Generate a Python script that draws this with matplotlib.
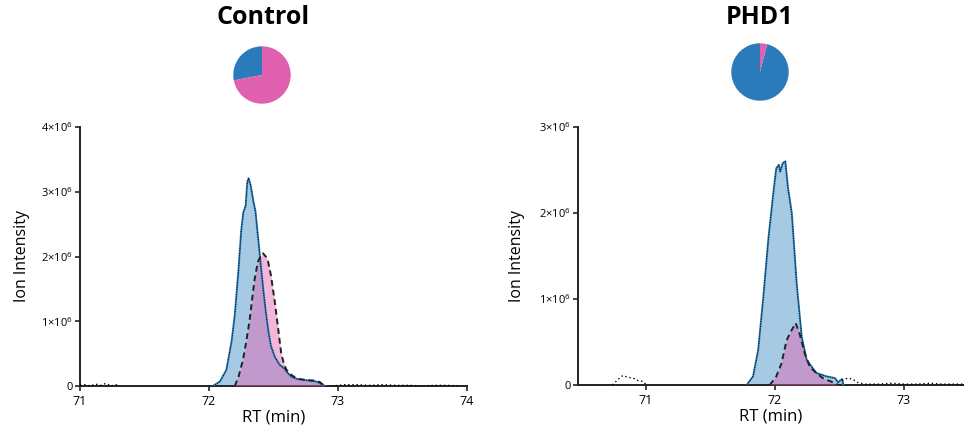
import matplotlib
matplotlib.use("Agg")
import matplotlib.pyplot as plt
import numpy as np

plt.rcParams['font.family'] = ['Open Sans', 'DejaVu Sans']
plt.rcParams['mathtext.fontset'] = 'custom'
plt.rcParams['mathtext.rm'] = 'Open Sans'
plt.rcParams['mathtext.it'] = 'Open Sans'

# ---------------- data ----------------
titles = ["Control", "PHD1"]
pie_blue = [28, 96]
pie_pink = [72, 4]

# Control panel
ctl_blue_t = [72.03, 72.085, 72.135, 72.176, 72.2, 72.227, 72.25, 72.266, 72.284, 72.297, 72.307,
              72.323, 72.344, 72.36, 72.38, 72.40, 72.42, 72.44, 72.46, 72.48, 72.51, 72.55, 72.58,
              72.61, 72.64, 72.68, 72.72, 72.78, 72.83, 72.87, 72.9]
ctl_blue_v = [0, 0.07, 0.25, 0.7, 1.1, 1.75, 2.4, 2.68, 2.78, 3.15, 3.21,
              3.1, 2.85, 2.7, 2.3, 1.9, 1.5, 1.15, 0.85, 0.62, 0.45, 0.32, 0.28,
              0.2, 0.14, 0.11, 0.1, 0.08, 0.07, 0.03, 0]
ctl_pink_t = [72.2, 72.23, 72.263, 72.29, 72.315, 72.335, 72.353, 72.379, 72.40, 72.418, 72.44,
              72.457, 72.48, 72.508, 72.534, 72.56, 72.58, 72.6, 72.64, 72.676, 72.72, 72.78,
              72.83, 72.86, 72.895]
ctl_pink_v = [0, 0.15, 0.4, 0.7, 1.02, 1.35, 1.64, 1.92, 2.0, 2.05, 2.0,
              1.93, 1.71, 1.33, 0.92, 0.5, 0.35, 0.25, 0.17, 0.12, 0.1, 0.09,
              0.08, 0.06, 0]
ctl_noise_t = [71.0, 71.04, 71.08, 71.12, 71.16, 71.2, 71.24, 71.28, 71.3, None,
               72.95, 73.05, 73.15, 73.25, 73.35, 73.45, 73.55, 73.65, 73.75, 73.85, 73.95]
ctl_noise_v = [0.01, 0.02, 0.0, 0.03, 0.01, 0.04, 0.0, 0.02, 0.0, None,
               0.0, 0.02, 0.02, 0.01, 0.02, 0.01, 0.01, 0.0, 0.01, 0.01, 0.0]

# PHD1 panel
phd_blue_t = [71.78, 71.83, 71.87, 71.91, 71.95, 71.99, 72.01, 72.03, 72.04, 72.06, 72.08,
              72.10, 72.13, 72.168, 72.207, 72.246, 72.32, 72.4, 72.465, 72.49, 72.52, 72.53]
phd_blue_v = [0, 0.1, 0.41, 1.03, 1.72, 2.27, 2.52, 2.56, 2.48, 2.58, 2.6,
              2.3, 2.0, 1.18, 0.56, 0.29, 0.14, 0.1, 0.08, 0.03, 0.07, 0]
phd_pink_t = [71.96, 72.01, 72.05, 72.09, 72.13, 72.16, 72.19, 72.23, 72.27, 72.32, 72.37, 72.45, 72.49]
phd_pink_v = [0, 0.1, 0.25, 0.52, 0.64, 0.72, 0.6, 0.37, 0.21, 0.14, 0.08, 0.03, 0]
phd_noise_t = [70.74, 70.78, 70.82, 70.86, 70.9, 70.94, 70.98, 71.0, None,
               72.52, 72.56, 72.6, 72.64, 72.7, 72.8, 72.9, 73.0, 73.1, 73.2, 73.3, 73.47]
phd_noise_v = [0, 0.06, 0.11, 0.09, 0.08, 0.05, 0.04, 0.0, None,
               0.05, 0.08, 0.07, 0.03, 0.01, 0.01, 0.02, 0.01, 0.01, 0.02, 0.01, 0.01]

panels = [
    dict(bt=ctl_blue_t, bv=ctl_blue_v, pt=ctl_pink_t, pv=ctl_pink_v, nt=ctl_noise_t, nv=ctl_noise_v,
         xlim=(71, 74), xticks=[71, 72, 73, 74], ylim=(0, 4e6), yticks=[0, 1e6, 2e6, 3e6, 4e6]),
    dict(bt=phd_blue_t, bv=phd_blue_v, pt=phd_pink_t, pv=phd_pink_v, nt=phd_noise_t, nv=phd_noise_v,
         xlim=(70.473, 73.465), xticks=[71, 72, 73], ylim=(0, 3e6), yticks=[0, 1e6, 2e6, 3e6]),
]

BLUE = '#2f7fba'
BLUE_FILL = '#3a8ac4'
PINK_FILL = '#e35fb0'
PIE_BLUE = '#2b7bba'
PIE_PINK = '#e060b0'

fig = plt.figure(figsize=(9.64, 4.34), dpi=100)

ax_rects = [[80/964, 48/434, 387/964, 259/434],
            [578/964, 49/434, 386/964, 258/434]]
pie_rects = [[233/964, (434-104)/434, 58/964, 58/434],
             [731/964, (434-101)/434, 58/964, 58/434]]
title_x = [263/964, 760/964]


def ytick_label(v):
    if v == 0:
        return '0'
    return r'$%d{\times}10^{6}$' % int(round(v / 1e6))


for i, p in enumerate(panels):
    ax = fig.add_axes(ax_rects[i])
    bt = np.array(p['bt']); bv = np.array(p['bv']) * 1e6
    pt = np.array(p['pt']); pv = np.array(p['pv']) * 1e6
    ax.fill_between(bt, 0, bv, color=BLUE_FILL, alpha=0.45, lw=0, zorder=2)
    ax.fill_between(pt, 0, pv, color=PINK_FILL, alpha=0.45, lw=0, zorder=3)
    ax.plot(bt, bv, color=BLUE, lw=1.4, zorder=4)
    ax.plot(bt, bv, color='black', lw=0.7, ls=(0, (1, 1.5)), zorder=5)
    ax.plot(pt, pv, color='#222222', lw=1.4, ls=(0, (3, 2)), zorder=5)
    nt = np.array([np.nan if t is None else t for t in p['nt']], dtype=float)
    nv = np.array([np.nan if v is None else v for v in p['nv']], dtype=float) * 1e6
    ax.plot(nt, nv, color='black', lw=1.0, ls=(0, (1, 2)), zorder=5)

    ax.set_xlim(*p['xlim'])
    ax.set_ylim(*p['ylim'])
    ax.set_xticks(p['xticks'])
    ax.set_xticklabels([str(t) for t in p['xticks']], fontsize=9)
    ax.set_yticks(p['yticks'])
    ax.set_yticklabels([ytick_label(v) for v in p['yticks']], fontsize=8)
    for s in ['top', 'right']:
        ax.spines[s].set_visible(False)
    for s in ['left', 'bottom']:
        ax.spines[s].set_linewidth(1.4)
        ax.spines[s].set_color('#222222')
    ax.tick_params(axis='both', length=3.5, width=1.2, color='#222222', pad=1.5)
    ax.tick_params(axis='x', pad=3)
    ax.set_xlabel('RT (min)', fontsize=12, labelpad=1)
    ax.set_ylabel('Ion Intensity', fontsize=11.5, labelpad=8 if i == 0 else 10)

    pax = fig.add_axes(pie_rects[i])
    pax.pie([pie_blue[i], pie_pink[i]], colors=[PIE_BLUE, PIE_PINK], startangle=90,
            counterclock=True, wedgeprops=dict(linewidth=0))
    pax.set_aspect('equal')
    pax.set_xlim(-1.01, 1.01)
    pax.set_ylim(-1.01, 1.01)

    fig.text(title_x[i], 1 - 17/434, titles[i], ha='center', va='center',
             fontsize=18, fontweight='bold', family=['Open Sans', 'DejaVu Sans'])

fig.savefig('out.png', dpi=100)
